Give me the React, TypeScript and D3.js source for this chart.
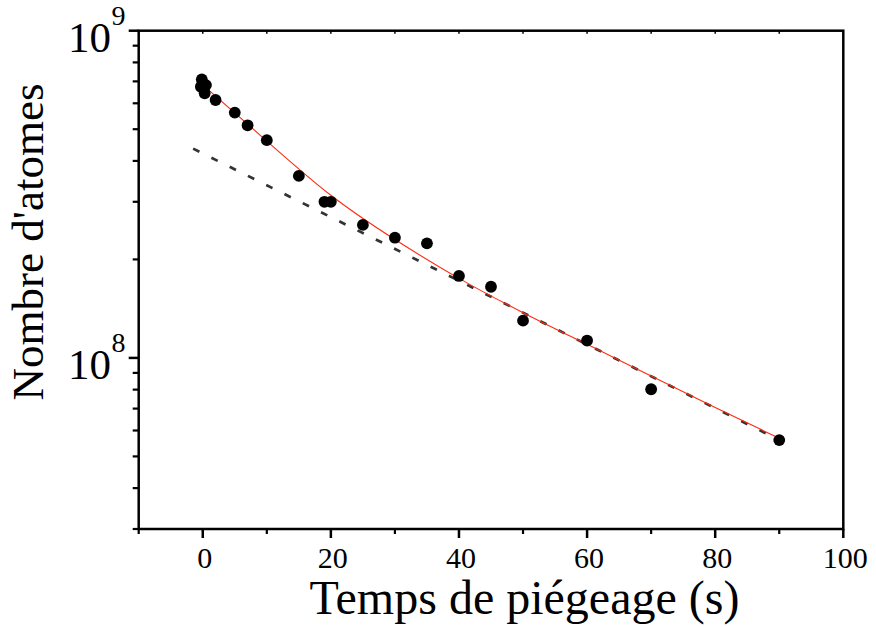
import React from "react";
import * as d3 from "d3";

// Measured atom numbers vs trapping time
const pointTimes = [-0.15, -0.3, 0.5, 0.3, 2, 5, 7, 10, 15, 19, 20, 25, 30, 35, 40, 45, 50, 60, 70, 90];
const pointAtoms = [7.1e8, 6.74e8, 6.82e8, 6.44e8, 6.14e8, 5.62e8, 5.14e8, 4.63e8, 3.6e8, 3.0e8, 3.0e8, 2.55e8, 2.33e8, 2.24e8, 1.78e8, 1.65e8, 1.3e8, 1.13e8, 8.02e7, 5.61e7];

// Fit curve (red)
const fitTimes = [0, 10, 20, 30, 40, 50, 60, 70, 80, 90];
const fitAtoms = [6.83e8, 4.6e8, 3.14e8, 2.3e8, 1.75e8, 1.375e8, 1.1e8, 8.8e7, 7.05e7, 5.68e7];

// Asymptotic exponential (dashed)
const dashTimes = [-1.5, 88];
const dashAtoms = [4.36e8, 5.87e7];

// Axis ticks
const xMajorTicks = [0, 20, 40, 60, 80, 100];
const xMinorTicks = [-10, 10, 30, 50, 70, 90];
const xTopTicks = [0, 10, 20, 30, 40, 50, 60, 70, 80, 90];
const yMajorTicks = [1e8, 1e9];
const yMajorExp = ["8", "9"];
const yMinorTicks = [3e7, 4e7, 5e7, 6e7, 7e7, 8e7, 9e7, 2e8, 3e8, 4e8, 5e8, 6e8, 7e8, 8e8, 9e8];

const xLabel = "Temps de piégeage (s)";
const yLabel = "Nombre d'atomes";

export default function App() {
  const W = 876, H = 627;
  const left = 138.7, right = 843.3, top = 30.7, bottom = 529;
  const x = d3.scaleLinear().domain([-10, 100]).range([left, right]);
  const y = d3.scaleLog().domain([3e7, 1e9]).range([bottom, top]);
  const font = "'Liberation Serif', 'Times New Roman', serif";

  const fitLine = d3
    .line<number>()
    .x((_, i) => x(fitTimes[i]))
    .y((d) => y(d))
    .curve(d3.curveNatural)(fitAtoms) as string;

  const dashLine = d3
    .line<number>()
    .x((_, i) => x(dashTimes[i]))
    .y((d) => y(d))(dashAtoms) as string;

  return (
    <svg
      width={W}
      height={H}
      style={{ position: "absolute", left: 0, top: 0, background: "#fff" }}
      fontFamily={font}
    >
      <rect x={0} y={0} width={W} height={H} fill="#fff" />
      {/* frame */}
      <rect x={left} y={top} width={right - left} height={bottom - top} fill="none" stroke="#000" strokeWidth={2.5} />

      {/* y ticks */}
      {yMinorTicks.map((v) => (
        <line key={"ym" + v} x1={left - 6} x2={left} y1={y(v)} y2={y(v)} stroke="#000" strokeWidth={2.2} />
      ))}
      {yMajorTicks.map((v, i) => (
        <g key={"yM" + v}>
          <line x1={left - 10} x2={left} y1={y(v)} y2={y(v)} stroke="#000" strokeWidth={2.5} />
          <text x={111} y={y(v) + 21} textAnchor="end" fontSize={43} fill="#000">10</text>
          <text x={111.5} y={y(v) - 5.5} fontSize={28} fill="#000">{yMajorExp[i]}</text>
        </g>
      ))}

      {/* x ticks */}
      {xMinorTicks.map((v) => (
        <line key={"xm" + v} x1={x(v)} x2={x(v)} y1={bottom} y2={bottom + 5} stroke="#000" strokeWidth={2.2} />
      ))}
      {xMajorTicks.map((v) => (
        <g key={"xM" + v}>
          <line x1={x(v)} x2={x(v)} y1={bottom} y2={bottom + 9} stroke="#000" strokeWidth={2.5} />
          <text x={x(v) + 2} y={568} textAnchor="middle" fontSize={30} fill="#000">{v}</text>
        </g>
      ))}
      {xTopTicks.map((v) => (
        <line key={"xt" + v} x1={x(v)} x2={x(v)} y1={top} y2={top + 3} stroke="#000" strokeWidth={1.5} />
      ))}

      {/* dashed asymptote */}
      <path d={dashLine} fill="none" stroke="#333" strokeWidth={2.7} strokeDasharray="7,13.4" />
      {/* fit */}
      <path d={fitLine} fill="none" stroke="#ff2a10" strokeWidth={1.1} />
      {/* points */}
      {pointAtoms.map((v, i) => (
        <circle key={"p" + i} cx={x(pointTimes[i])} cy={y(v)} r={5.9} fill="#000" />
      ))}

      {/* axis titles */}
      <text x={(307 + 742) / 2} y={614} textAnchor="middle" fontSize={48} fill="#000">{xLabel}</text>
      <text transform={`translate(43,242) rotate(-90)`} textAnchor="middle" fontSize={45} fill="#000">{yLabel}</text>
    </svg>
  );
}
